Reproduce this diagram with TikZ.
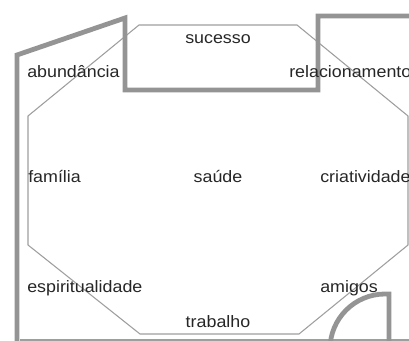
\documentclass[tikz,border=0pt]{standalone}
\usepackage{fontspec}
\setmainfont[FakeStretch=1.08]{Liberation Sans}
\begin{document}
\begin{tikzpicture}[x=0.75pt,y=-0.75pt,
  thin/.style={draw=black!38,line width=0.8pt},
  thick/.style={draw=black!42,line width=3.6pt},
  lbl/.style={inner sep=0pt,text=black!85,font=\fontsize{12.4}{13}\selectfont}]
\useasboundingbox (0,0) rectangle (409,341);
\clip (0,0) rectangle (409,341);
% octagon
\coordinate (o1) at (139,25);
\coordinate (o2) at (297,25);
\coordinate (o3) at (408,116);
\coordinate (o4) at (408,245);
\coordinate (o5) at (299,334);
\coordinate (o6) at (140,334);
\coordinate (o7) at (28,245);
\coordinate (o8) at (28,116);
\draw[thin] (o1) -- (o2) -- (o3) -- (o4) -- (o5) -- (o6) -- (o7) -- (o8) -- cycle;
% bottom frame line
\coordinate (b1) at (20,340);
\coordinate (b2) at (409,340);
\draw[thin] (b1) -- (b2);
% thick polyline
\coordinate (t0) at (17,350);
\coordinate (t1) at (17,55);
\coordinate (t2) at (125,18);
\coordinate (t3) at (125,90);
\coordinate (t4) at (318,90);
\coordinate (t5) at (318,16);
\coordinate (t6) at (415,16);
\draw[thick,line join=miter] (t0) -- (t1) -- (t2) -- (t3) -- (t4) -- (t5) -- (t6);
% thick arc bottom right
\coordinate (r0) at (389,350);
\coordinate (r1) at (389,294);
\coordinate (r2) at (385,294);
\draw[thick] (r0) -- (r1) -- (r2) arc[start angle=270,end angle=180,radius=55];
% labels
\node[lbl,anchor=base] (sucesso) at (218,44) {sucesso};
\node[lbl,anchor=base west] (abund) at (27,78) {abundância};
\node[lbl,anchor=base west] (relac) at (289,78) {relacionamento};
\node[lbl,anchor=base west] (familia) at (28,183) {família};
\node[lbl,anchor=base] (saude) at (218,183) {saúde};
\node[lbl,anchor=base west] (criat) at (320,183) {criatividade};
\node[lbl,anchor=base west] (espir) at (27,292) {espiritualidade};
\node[lbl,anchor=base west] (amigos) at (320,292) {amigos};
\node[lbl,anchor=base] (trab) at (218,327) {trabalho};
\end{tikzpicture}
\end{document}
